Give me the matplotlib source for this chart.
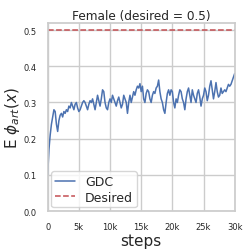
import matplotlib
matplotlib.use("Agg")
import matplotlib.pyplot as plt
import seaborn as sns
import numpy as np

steps = np.arange(0, 30001, 200)
gdc = [
    0.10, 0.17, 0.21, 0.24, 0.26, 0.28, 0.275, 0.24, 0.22, 0.25,
    0.265, 0.27, 0.26, 0.275, 0.27, 0.28, 0.275, 0.29, 0.285, 0.30,
    0.29, 0.28, 0.295, 0.30, 0.285, 0.275, 0.28, 0.29, 0.30, 0.305,
    0.30, 0.29, 0.28, 0.295, 0.305, 0.30, 0.31, 0.295, 0.28, 0.30,
    0.32, 0.305, 0.29, 0.31, 0.335, 0.33, 0.30, 0.285, 0.28, 0.30,
    0.31, 0.30, 0.32, 0.31, 0.30, 0.29, 0.305, 0.315, 0.30, 0.285,
    0.295, 0.32, 0.31, 0.30, 0.27, 0.30, 0.32, 0.30, 0.315, 0.33,
    0.32, 0.335, 0.345, 0.34, 0.352, 0.33, 0.345, 0.31, 0.30, 0.325,
    0.335, 0.33, 0.31, 0.30, 0.32, 0.33, 0.325, 0.34, 0.345, 0.362,
    0.33, 0.31, 0.30, 0.28, 0.27, 0.30, 0.325, 0.335, 0.32, 0.335,
    0.33, 0.30, 0.285, 0.31, 0.30, 0.32, 0.335, 0.33, 0.31, 0.30,
    0.28, 0.31, 0.33, 0.34, 0.32, 0.30, 0.335, 0.32, 0.31, 0.30,
    0.325, 0.335, 0.315, 0.29, 0.31, 0.32, 0.34, 0.33, 0.305, 0.32,
    0.345, 0.36, 0.335, 0.31, 0.33, 0.355, 0.33, 0.315, 0.32, 0.34,
    0.325, 0.33, 0.335, 0.33, 0.34, 0.35, 0.345, 0.35, 0.36, 0.37,
    0.38,
]
desired = 0.5
xticks = [0, 5000, 10000, 15000, 20000, 25000, 30000]
xticklabels = ["0", "5k", "10k", "15k", "20k", "25k", "30k"]
yticks = [0.0, 0.1, 0.2, 0.3, 0.4, 0.5]

sns.set_theme(style="whitegrid")
fig, ax = plt.subplots(figsize=(2.51, 2.51), dpi=100)
ax.plot(steps, gdc, color="#4c72b0", lw=1.1, label="GDC")
ax.axhline(desired, color="#c44e52", ls="--", lw=1.1, label="Desired")
ax.set_xlim(0, 30000)
ax.set_ylim(0, 0.52)
ax.set_xticks(xticks)
ax.set_xticklabels(xticklabels)
ax.set_yticks(yticks)
ax.tick_params(labelsize=6, pad=2)
ax.set_title("Female (desired = 0.5)", fontsize=8.7, pad=3)
ax.set_xlabel("steps", fontsize=11, labelpad=1)
ax.set_ylabel(r"E $\phi_{art}(x)$", fontsize=11, labelpad=1)
ax.legend(loc="lower left", fontsize=9, borderaxespad=0.3, handlelength=1.6,
          borderpad=0.3, labelspacing=0.2)
fig.subplots_adjust(left=0.19, right=0.935, top=0.905, bottom=0.155)
fig.savefig("out.png", dpi=100)
